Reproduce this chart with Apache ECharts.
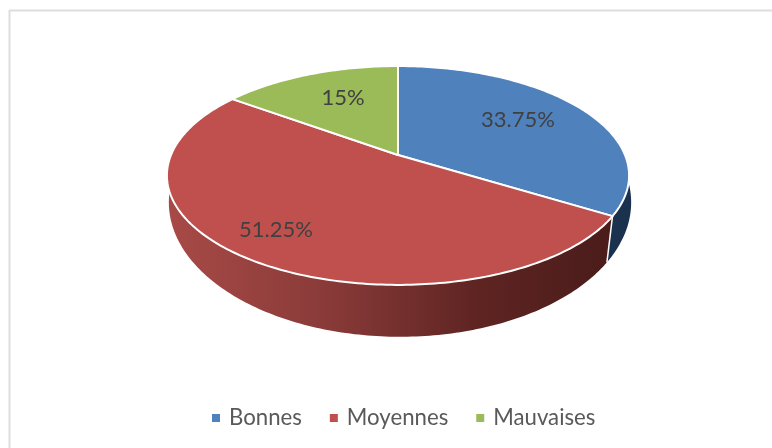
<!DOCTYPE html>
<html>
<head>
<meta charset="utf-8">
<style>
html, body { margin: 0; padding: 0; background: #fff; }
#chart { width: 772px; height: 448px; }
</style>
<script src="https://cdn.jsdelivr.net/npm/echarts@6/dist/echarts.min.js"></script>
</head>
<body>
<div id="chart"></div>
<script>
var categories = ['Bonnes', 'Moyennes', 'Mauvaises'];
var values = [33.75, 51.25, 15];
var valueLabels = ['33.75%', '51.25%', '15%'];

var colors = ['#4F81BD', '#C0504D', '#9BBB59'];
// label centres are placed by hand, like the original
var labelPos = [[518, 120], [276, 230], [343, 98]];

// tilted disc: circle seen in perspective
var topDisc = { cx: 398, cy: 155, a: 227, b: 105.6, k: -0.187 };
var bottomDisc = { cx: 400, cy: 189, a: 230, b: 133, k: -0.1 };
// only this part of the side wall (degrees from 12 o'clock) can be seen
var wallStart = 70;
var wallEnd = 290;

function project(disc, deg) {
  var t = deg * Math.PI / 180;
  var u = Math.sin(t);
  var v = -Math.cos(t);
  var d = 1 + disc.k * v;
  return [disc.cx + disc.a * u / d, disc.cy + disc.b * v / d];
}

function arc(disc, from, to) {
  var pts = [];
  var steps = Math.ceil(Math.abs(to - from));
  for (var i = 0; i <= steps; i++) {
    pts.push(project(disc, from + (to - from) * i / steps));
  }
  return pts;
}

function wallFill(i) {
  if (i === 0) {
    return '#1B324F';
  }
  if (i === 1) {
    return new echarts.graphic.LinearGradient(0, 0, 1, 0, [
      { offset: 0, color: '#A84A47' },
      { offset: 0.35, color: '#8A3B39' },
      { offset: 0.7, color: '#5E2422' },
      { offset: 1, color: '#4A1C1A' }
    ]);
  }
  return '#5C7033';
}

function renderSlice(seriesIndex) {
  var total = values.reduce(function (s, v) { return s + v; }, 0);
  var before = values.slice(0, seriesIndex).reduce(function (s, v) { return s + v; }, 0);
  var from = before / total * 360;
  var to = (before + values[seriesIndex]) / total * 360;

  var top = [[topDisc.cx, topDisc.cy]].concat(arc(topDisc, from, to));
  var children = [
    {
      type: 'polygon',
      z2: 5,
      shape: { points: top },
      style: { fill: colors[seriesIndex], stroke: '#fff', lineWidth: 2, lineJoin: 'round' }
    },
    {
      type: 'text',
      z2: 6,
      style: {
        x: labelPos[seriesIndex][0],
        y: labelPos[seriesIndex][1],
        text: valueLabels[seriesIndex],
        fill: '#404040',
        font: '22px Lato',
        align: 'center',
        verticalAlign: 'middle'
      }
    }
  ];
  var wallFrom = Math.max(from, wallStart);
  var wallTo = Math.min(to, wallEnd);
  if (wallFrom < wallTo) {
    children.push({
      type: 'polygon',
      z2: 1,
      shape: { points: arc(topDisc, wallFrom, wallTo).concat(arc(bottomDisc, wallTo, wallFrom)) },
      style: { fill: wallFill(seriesIndex) }
    });
  }
  // white edge where the red and blue walls meet
  if (seriesIndex === 0) {
    var p1 = project(topDisc, to);
    var p2 = project(bottomDisc, to);
    children.push({
      type: 'line',
      z2: 3,
      shape: { x1: p1[0], y1: p1[1], x2: p2[0], y2: p2[1] },
      style: { stroke: '#fff', lineWidth: 1.5 }
    });
  }
  return { type: 'group', children: children };
}

var myChart = echarts.init(document.getElementById('chart'));

var series = [];
for (var i = 0; i < categories.length; i++) {
  series.push({
    name: categories[i],
    type: 'custom',
    coordinateSystem: 'none',
    silent: true,
    itemStyle: { color: colors[i] },
    data: [values[i]],
    renderItem: function (params) {
      return renderSlice(params.seriesIndex);
    }
  });
}

var option = {
  animation: false,
  backgroundColor: '#fff',
  legend: {
    data: categories,
    left: 207,
    top: 402,
    icon: 'rect',
    itemWidth: 8,
    itemHeight: 8,
    itemGap: 28,
    textStyle: {
      color: '#595959',
      fontFamily: 'Lato',
      fontSize: 22.2,
      padding: [0, 0, 0, 4]
    }
  },
  graphic: [
    { type: 'line', shape: { x1: 9.5, y1: 10.5, x2: 772, y2: 10.5 }, style: { stroke: '#DDD', lineWidth: 2 } },
    { type: 'line', shape: { x1: 9.5, y1: 10, x2: 9.5, y2: 448 }, style: { stroke: '#DDD', lineWidth: 2 } }
  ],
  series: series
};
myChart.setOption(option, true);
</script>
</body>
</html>
